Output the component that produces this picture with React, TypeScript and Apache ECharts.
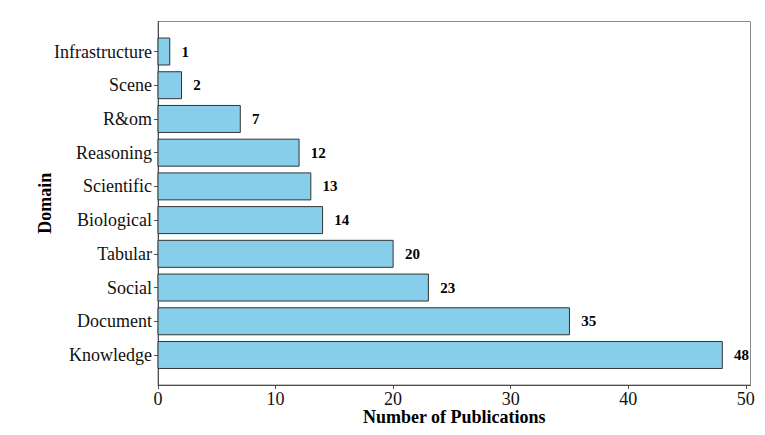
import React, { useEffect, useRef } from "react";
import * as echarts from "echarts";

const categories = [
  "Infrastructure",
  "Scene",
  "R&om",
  "Reasoning",
  "Scientific",
  "Biological",
  "Tabular",
  "Social",
  "Document",
  "Knowledge",
];
const counts = [1, 2, 7, 12, 13, 14, 20, 23, 35, 48];
const xTicks = [0, 10, 20, 30, 40, 50];

const FONT = "'Liberation Serif', 'Times New Roman', serif";

export default function App() {
  const ref = useRef<HTMLDivElement>(null);
  useEffect(() => {
    if (!ref.current) return;
    const chart = echarts.init(ref.current, null, { renderer: "svg" });
    const yIdx = categories.map((_, i) => i);
    const data = counts.map((v, i) => [v, i]);
    chart.setOption({
      animation: false,
      backgroundColor: "#ffffff",
      grid: {
        left: 158,
        right: 14.5,
        top: 21.5,
        bottom: 50,
        show: true,
        borderColor: "#8c8c8c",
        borderWidth: 1,
        backgroundColor: "transparent",
      },
      xAxis: {
        type: "value",
        min: 0,
        max: 50.4,
        name: "Number of Publications",
        nameLocation: "middle",
        nameGap: 23,
        nameMoveOverlap: false,
        nameTextStyle: {
          fontFamily: FONT,
          fontSize: 18,
          fontWeight: "bold",
          color: "#000",
          verticalAlign: "top",
        },
        axisLine: {
          show: true,
          onZero: false,
          lineStyle: { color: "#4d4d4d", width: 1 },
        },
        axisTick: {
          show: true,
          length: 4,
          customValues: xTicks,
          lineStyle: { color: "#4d4d4d" },
        },
        axisLabel: {
          customValues: xTicks,
          fontFamily: FONT,
          fontSize: 18,
          color: "#111",
          margin: 5,
        },
        splitLine: { show: false },
      },
      yAxis: {
        type: "value",
        min: -0.89,
        max: 9.89,
        inverse: true,
        name: "Domain",
        nameLocation: "middle",
        nameGap: 104,
        nameMoveOverlap: false,
        nameRotate: 90,
        nameTextStyle: {
          fontFamily: FONT,
          fontSize: 18,
          fontWeight: "bold",
          color: "#000",
        },
        axisLine: {
          show: true,
          onZero: false,
          lineStyle: { color: "#4d4d4d", width: 1 },
        },
        axisTick: {
          show: true,
          length: 4,
          customValues: yIdx,
          lineStyle: { color: "#4d4d4d" },
        },
        axisLabel: {
          customValues: yIdx,
          fontFamily: FONT,
          fontSize: 18,
          color: "#111",
          margin: 6,
          formatter: (v: number) => categories[Math.round(v)] ?? "",
        },
        splitLine: { show: false },
      },
      series: [
        {
          type: "custom",
          data,
          encode: { x: 0, y: 1 },
          renderItem: (params: any, api: any) => {
            const v = api.value(0);
            const i = api.value(1);
            const p0 = api.coord([0, i - 0.4]);
            const p1 = api.coord([v, i + 0.4]);
            const pc = api.coord([v + 1, i]);
            const x = Math.min(p0[0], p1[0]);
            const y = Math.min(p0[1], p1[1]);
            const w = Math.abs(p1[0] - p0[0]);
            const h = Math.abs(p1[1] - p0[1]);
            return {
              type: "group",
              children: [
                {
                  type: "rect",
                  shape: { x, y, width: w, height: h },
                  style: { fill: "#87CEEB", stroke: "#333333", lineWidth: 1 },
                },
                {
                  type: "text",
                  x: pc[0],
                  y: pc[1],
                  style: {
                    text: String(v),
                    fill: "#000",
                    font: `bold 15px ${FONT}`,
                    textAlign: "left",
                    textVerticalAlign: "middle",
                  },
                },
              ],
            };
          },
        },
      ],
    });
    return () => chart.dispose();
  }, []);
  return (
    <div
      ref={ref}
      style={{ position: "fixed", left: 0, top: 0, width: 765, height: 435 }}
    />
  );
}
